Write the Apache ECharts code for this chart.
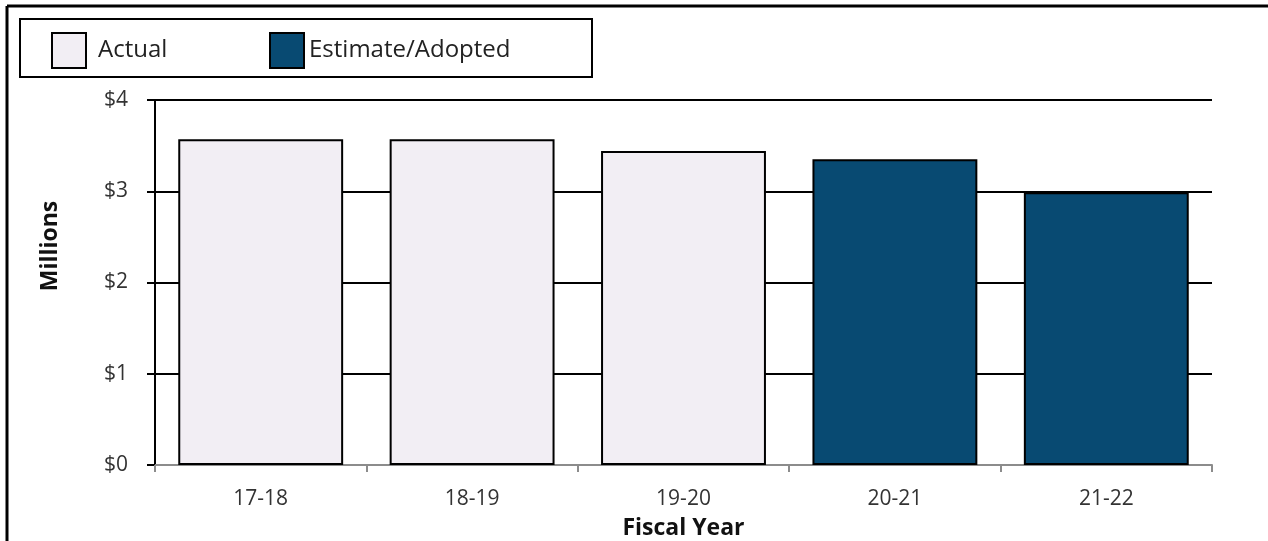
<!DOCTYPE html>
<html>
<head>
<meta charset="utf-8">
<script src="https://cdn.jsdelivr.net/npm/echarts@6/dist/echarts.min.js"></script>
<style>
  html, body { margin: 0; padding: 0; background: #fff; }
  #chart { width: 1268px; height: 541px; }
</style>
</head>
<body>
<div id="chart"></div>
<script>
// Fiscal years and spending (in millions of dollars)
const categories = ['17-18', '18-19', '19-20', '20-21', '21-22'];
const actualValues = [3.57, 3.57, 3.44, null, null];
const estimateValues = [null, null, null, 3.35, 2.99];
const yTicks = [0, 1, 2, 3, 4];

const FONT = '"Open Sans", "Noto Sans", sans-serif';
const ACTUAL_COLOR = '#f2eef4';
const ESTIMATE_COLOR = '#084a72';

const chart = echarts.init(document.getElementById('chart'), null, { renderer: 'canvas' });

function legendBlock(name, left, gap) {
  return {
    data: [name], left: left, top: 27, itemWidth: 34, itemHeight: 35, itemGap: 0,
    icon: 'rect', selectedMode: false,
    textStyle: { fontFamily: FONT, fontSize: 24, color: '#222', padding: [0, 0, 0, gap] },
    itemStyle: { borderColor: '#000', borderWidth: 2 }
  };
}

chart.setOption({
  animation: false,
  backgroundColor: '#fff',
  graphic: [
    // outer frame (top and left edges)
    { type: 'line', shape: { x1: 7, y1: 6, x2: 1268, y2: 6 }, style: { stroke: '#000', lineWidth: 3 } },
    { type: 'line', shape: { x1: 7, y1: 6, x2: 7, y2: 541 }, style: { stroke: '#000', lineWidth: 3 } },
    // legend box
    { type: 'rect', shape: { x: 20, y: 19, width: 572, height: 58 }, style: { fill: 'none', stroke: '#000', lineWidth: 2 } },
    // value axis title, sitting a little above the axis middle
    {
      type: 'text', x: 50, y: 246, rotation: Math.PI / 2,
      style: { text: 'Millions', fontFamily: FONT, fontSize: 23, fontWeight: 'bold', fill: '#111', align: 'center', verticalAlign: 'middle' }
    }
  ],
  legend: [
    legendBlock('Actual', 46, 7),
    legendBlock('Estimate/Adopted', 264, 0)
  ],
  grid: { left: 155, right: 56, top: 100, bottom: 76, containLabel: false, outerBoundsMode: 'none' },
  xAxis: {
    type: 'category',
    data: categories,
    name: 'Fiscal Year',
    nameLocation: 'middle',
    nameGap: 52,
    nameTextStyle: { fontFamily: FONT, fontSize: 23, fontWeight: 'bold', color: '#111' },
    axisLine: { lineStyle: { color: '#8c8c8c', width: 2 } },
    axisTick: { show: true, length: 7, lineStyle: { color: '#8c8c8c', width: 2 } },
    axisLabel: { fontFamily: FONT, fontSize: 21, color: '#333', margin: 24 }
  },
  yAxis: {
    type: 'value',
    min: yTicks[0],
    max: yTicks[yTicks.length - 1],
    interval: 1,
    axisLine: { show: true, lineStyle: { color: '#000', width: 2 } },
    axisTick: { show: true, length: 8, lineStyle: { color: '#000', width: 2 } },
    axisLabel: { fontFamily: FONT, fontSize: 21, color: '#333', margin: 27, formatter: v => '$' + v },
    splitLine: { show: true, lineStyle: { color: '#000', width: 2 } }
  },
  series: [
    {
      name: 'Actual', type: 'bar', stack: 'fy', data: actualValues,
      barCategoryGap: '22%',
      itemStyle: { color: ACTUAL_COLOR, borderColor: '#000', borderWidth: 2 }
    },
    {
      name: 'Estimate/Adopted', type: 'bar', stack: 'fy', data: estimateValues,
      barCategoryGap: '22%',
      itemStyle: { color: ESTIMATE_COLOR, borderColor: '#000', borderWidth: 2 }
    }
  ]
});
</script>
</body>
</html>
